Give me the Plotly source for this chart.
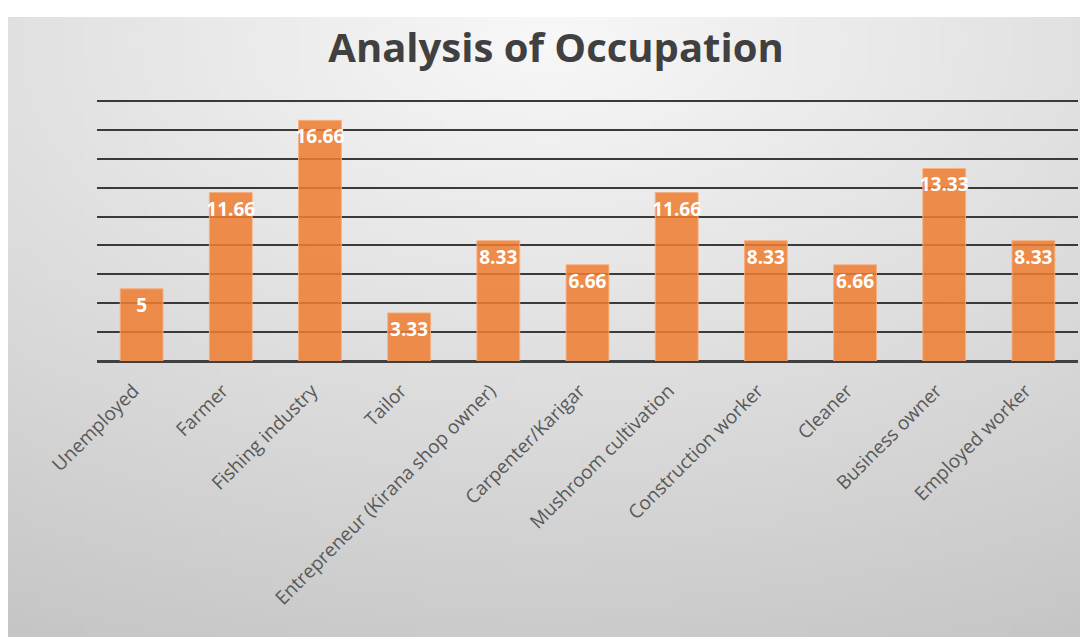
import base64, zlib, struct
import numpy as np
import plotly.graph_objects as go

categories = ["Unemployed", "Farmer", "Fishing industry", "Tailor",
              "Entrepreneur (Kirana shop owner)", "Carpenter/Karigar",
              "Mushroom cultivation", "Construction worker", "Cleaner",
              "Business owner", "Employed worker"]
values = [5, 11.66, 16.66, 3.33, 8.33, 6.66, 11.66, 8.33, 6.66, 13.33, 8.33]
value_labels = ["5", "11.66", "16.66", "3.33", "8.33", "6.66", "11.66",
                "8.33", "6.66", "13.33", "8.33"]
y_max = 18


def gradient_png(w=120, h=70):
    yy, xx = np.mgrid[0:h, 0:w]
    dx = (xx / (w - 1) - 0.5)
    dy = (yy / (h - 1) - 0.03)
    d = np.sqrt(dx ** 2 + dy ** 2)
    v = np.clip(248 - 46 * d, 0, 255).astype(np.uint8)
    arr = np.stack([v, v, v], axis=-1)
    raw = b"".join(b"\x00" + arr[i].tobytes() for i in range(h))

    def chunk(t, data):
        c = struct.pack(">I", len(data)) + t + data
        return c + struct.pack(">I", zlib.crc32(t + data) & 0xffffffff)

    png = b"\x89PNG\r\n\x1a\n" + chunk(b"IHDR", struct.pack(">IIBBBBB", w, h, 8, 2, 0, 0, 0)) \
        + chunk(b"IDAT", zlib.compress(raw, 9)) + chunk(b"IEND", b"")
    return "data:image/png;base64," + base64.b64encode(png).decode()


OFF = 8  # page body margin
W, H = 1088 - OFF, 637 - OFF
L = 97 - OFF
R = W - (1078 - OFF)
T = 101 - OFF
B = H - (361 - OFF)
pw, ph = W - L - R, H - T - B


def px(x):
    return (x - OFF - L) / pw


def py(y):
    return (H - B - (y - OFF)) / ph


fig = go.Figure()
fig.add_trace(go.Bar(
    x=categories, y=values, text=value_labels,
    textposition="inside", insidetextanchor="end", constraintext="none",
    textangle=0,
    textfont=dict(family="Open Sans", size=19, color="white", weight="bold"),
    marker=dict(color="rgba(237,125,49,0.86)",
                line=dict(color="rgba(248,175,125,0.9)", width=1)),
    width=0.48,
    cliponaxis=False,
))

fig.add_layout_image(dict(
    source=gradient_png(), xref="paper", yref="paper",
    x=px(8), y=py(17), sizex=px(1088) - px(8), sizey=py(17) - py(637),
    xanchor="left", yanchor="top", sizing="stretch", layer="below",
))

# top gridline at y_max (top of the value range = top of plot area);
# plotly hides a gridline sitting exactly on the plot edge
fig.add_shape(type="line", xref="paper", yref="paper", x0=0, x1=1,
              y0=1, y1=1, layer="below",
              line=dict(color="#3a3a3a", width=2))

fig.update_layout(
    width=W, height=H,
    margin=dict(l=L, r=R, t=T, b=B),
    paper_bgcolor="white", plot_bgcolor="rgba(0,0,0,0)",
    showlegend=False,
    title=dict(text="<b>Analysis of Occupation</b>", xref="container",
               x=(556 - OFF) / W, xanchor="center",
               y=1 - (48 - OFF) / H, yanchor="middle",
               font=dict(family="Open Sans", size=40, color="#404040")),
    bargap=0.52,
)
fig.update_xaxes(showgrid=False, showline=False, ticks="", tickangle=-45,
                 ticklabelstandoff=14, ticklabelshift=-8,
                 tickfont=dict(family="Open Sans", size=19, color="#595959"))
fig.update_yaxes(range=[0, y_max], dtick=2,
                 showticklabels=False, ticks="",
                 showgrid=True, gridcolor="#3a3a3a", gridwidth=2,
                 zeroline=True, zerolinecolor="#404040", zerolinewidth=3)

fig.write_html("out.html")
